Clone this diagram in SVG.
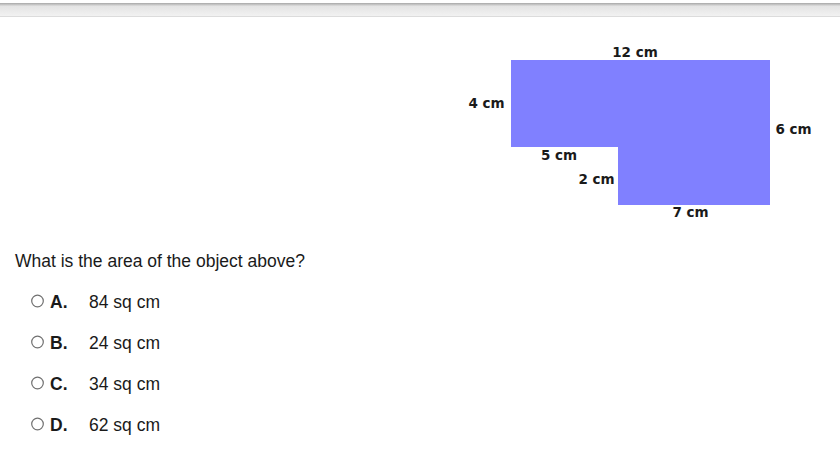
<svg xmlns="http://www.w3.org/2000/svg" width="840" height="463" viewBox="0 0 840 463">
<style>
.lbl{font-family:"DejaVu Sans",Verdana,sans-serif;font-weight:bold;font-size:13.5px;fill:#1a1a1a}
.q{font-family:"Liberation Sans",Arial,sans-serif;font-size:17.5px;fill:#1a1a1a}
.b{font-weight:bold}
.radio{fill:#fff;stroke:#707070;stroke-width:1.2}
</style>
<defs>
<linearGradient id="bar" x1="0" y1="0" x2="0" y2="1">
<stop offset="0" stop-color="#a8a8a8"/>
<stop offset="0.25" stop-color="#e4e4e4"/>
<stop offset="1" stop-color="#f2f2f2"/>
</linearGradient>
</defs>
<rect width="840" height="463" fill="#fff"/>
<rect x="0" y="3" width="840" height="13" fill="url(#bar)"/>
<line x1="0" y1="16.5" x2="840" y2="16.5" stroke="#dcdcdc"/>
<g id="shape">
<polygon points="511,60 770,60 770,205 618,205 618,147 511,147" fill="#8080ff"/>
</g>
<g id="labels">
<text class="lbl" x="635" y="57" text-anchor="middle">12 cm</text>
<text class="lbl" x="486.5" y="108" text-anchor="middle">4 cm</text>
<text class="lbl" x="793.5" y="134" text-anchor="middle">6 cm</text>
<text class="lbl" x="559" y="159.5" text-anchor="middle">5 cm</text>
<text class="lbl" x="596.5" y="184" text-anchor="middle">2 cm</text>
<text class="lbl" x="690.5" y="217" text-anchor="middle">7 cm</text>
</g>
<g id="question">
<text class="q" x="15" y="267">What is the area of the object above?</text>
</g>
<g id="optA"><circle class="radio" cx="37.5" cy="301" r="5.8"/><text class="q b" x="50" y="308">A.</text><text class="q" x="89" y="308">84 sq cm</text></g>
<g id="optB"><circle class="radio" cx="37.5" cy="342" r="5.8"/><text class="q b" x="50" y="349">B.</text><text class="q" x="89" y="349">24 sq cm</text></g>
<g id="optC"><circle class="radio" cx="37.5" cy="383" r="5.8"/><text class="q b" x="50" y="390">C.</text><text class="q" x="89" y="390">34 sq cm</text></g>
<g id="optD"><circle class="radio" cx="37.5" cy="424" r="5.8"/><text class="q b" x="50" y="431">D.</text><text class="q" x="89" y="431">62 sq cm</text></g>
</svg>
